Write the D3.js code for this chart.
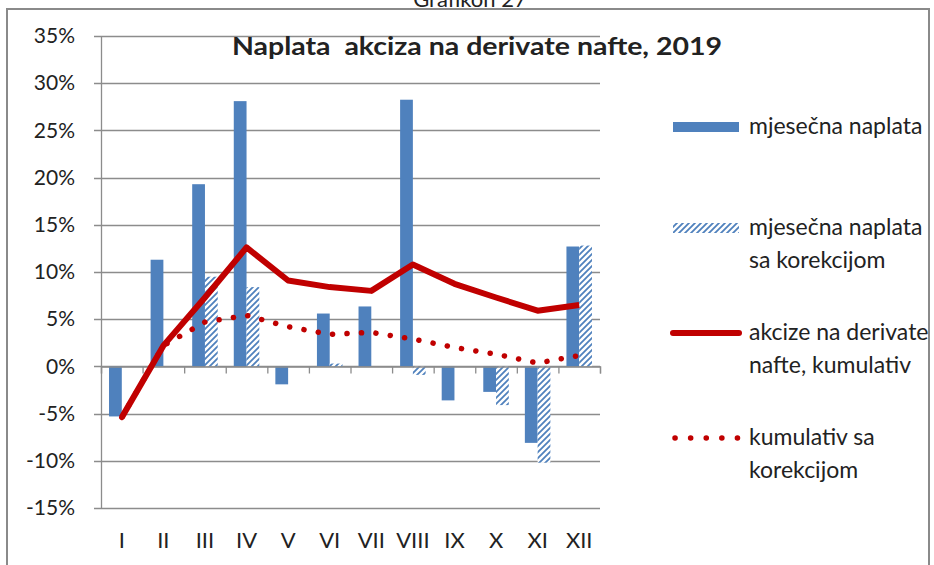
<!DOCTYPE html>
<html>
<head>
<meta charset="utf-8">
<script src="https://cdn.jsdelivr.net/npm/d3@7"></script>
<style>
  body { margin: 0; background: #fff; }
  text { font-family: Lato, "Noto Sans", sans-serif; fill: #222; }
</style>
</head>
<body>
<div id="chart"></div>
<script>
// podaci sa grafikona (u %)
var months = ["I", "II", "III", "IV", "V", "VI", "VII", "VIII", "IX", "X", "XI", "XII"];
var monthly = [-5.3, 11.3, 19.3, 28.1, -1.9, 5.6, 6.35, 28.25, -3.6, -2.7, -8.1, 12.7];
var monthlyCorr = [null, null, 9.5, 8.4, 0, 0.3, 0, -0.9, 0, -4.1, -10.2, 12.8];
var cumulative = [-5.4, 2.2, 7.3, 12.6, 9.1, 8.4, 8.0, 10.8, 8.75, 7.3, 5.9, 6.5];
var cumulativeCorr = [-5.4, 2.2, 4.7, 5.4, 4.2, 3.4, 3.6, 2.9, 2.0, 1.3, 0.35, 1.15];
var yTicks = [-15, -10, -5, 0, 5, 10, 15, 20, 25, 30, 35];
var legendItems = [
    ["mjesečna naplata"],
    ["mjesečna naplata", "sa korekcijom"],
    ["akcize na derivate", "nafte, kumulativ"],
    ["kumulativ sa", "korekcijom"]
];

const WIDTH = 934;
const HEIGHT = 565;
const PLOT_LEFT = 101;
const PLOT_RIGHT = 600;
const PLOT_TOP = 36;
const PLOT_BOTTOM = 508;

const BLUE = "#4f81bd";
const RED = "#c00000";
const GRID = "#8c8c8c";

var svg = d3.select("#chart")
    .append("svg")
    .attr("width", WIDTH)
    .attr("height", HEIGHT);

// hatch pattern za korigovane stubice
var defs = svg.append("defs");
var pat = defs.append("pattern")
    .attr("id", "hatch")
    .attr("patternUnits", "userSpaceOnUse")
    .attr("width", 6)
    .attr("height", 6);
pat.append("rect").attr("width", 6).attr("height", 6).attr("fill", "#fff");
pat.append("path")
    .attr("d", "M-1,7 L7,-1 M-4,4 L4,-4 M2,10 L10,2")
    .attr("stroke", BLUE)
    .attr("stroke-width", 1.8);

// okvir
svg.append("rect")
    .attr("x", 7).attr("y", 9)
    .attr("width", 922).attr("height", 600)
    .attr("fill", "none")
    .attr("stroke", "#8a8a8a")
    .attr("stroke-width", 2);

// naslov iznad okvira (odsječen kao na originalu)
svg.append("text")
    .attr("x", 470).attr("y", 7)
    .attr("text-anchor", "middle")
    .style("font-size", "22px")
    .text("Grafikon 27");

var x0 = d3.scaleBand().domain(months).range([PLOT_LEFT, PLOT_RIGHT])
    .paddingInner(0.386).paddingOuter(0.193);
var x1 = d3.scaleBand().domain(["a", "b"]).range([0, x0.bandwidth()]);
var xc = function (m) { return x0(m) + x0.bandwidth() / 2; };
var y = d3.scaleLinear().domain([-15, 35]).range([PLOT_BOTTOM, PLOT_TOP]);

// mreža
svg.append("g")
    .selectAll("line")
    .data(yTicks)
    .enter()
    .append("line")
    .attr("x1", PLOT_LEFT - 7)
    .attr("x2", PLOT_RIGHT)
    .attr("y1", function (d) { return Math.round(y(d)) + 0.5; })
    .attr("y2", function (d) { return Math.round(y(d)) + 0.5; })
    .attr("stroke", GRID)
    .attr("stroke-width", 1.3);

// y osa
var yAxis = svg.append("g")
    .attr("transform", "translate(" + PLOT_LEFT + ",0)")
    .call(d3.axisLeft(y).tickValues(yTicks).tickSize(0).tickPadding(26)
        .tickFormat(function (d) { return d + "%"; }));
yAxis.select(".domain").attr("stroke", GRID).attr("stroke-width", 1.3);
yAxis.selectAll("text").style("font-size", "21px").attr("fill", "#222")
    .style("font-family", "Lato, sans-serif");

// stubici
svg.append("g")
    .selectAll("rect")
    .data(months)
    .enter()
    .append("rect")
    .attr("x", function (m) { return x0(m) + x1("a"); })
    .attr("width", x1.bandwidth())
    .attr("y", function (m, i) { return y(Math.max(0, monthly[i])); })
    .attr("height", function (m, i) { return Math.abs(y(monthly[i]) - y(0)); })
    .attr("fill", BLUE);

svg.append("g")
    .selectAll("rect")
    .data(months.filter(function (m, i) { return monthlyCorr[i] !== null; }))
    .enter()
    .append("rect")
    .attr("x", function (m) { return x0(m) + x1("b"); })
    .attr("width", x1.bandwidth())
    .attr("y", function (m) { var v = monthlyCorr[months.indexOf(m)]; return y(Math.max(0, v)); })
    .attr("height", function (m) { var v = monthlyCorr[months.indexOf(m)]; return Math.abs(y(v) - y(0)); })
    .attr("fill", "url(#hatch)");

// x osa na nuli
var xAxis = svg.append("g")
    .attr("transform", "translate(0," + (Math.round(y(0)) + 0.5) + ")")
    .call(d3.axisBottom(d3.scaleLinear().domain([0, 12]).range([PLOT_LEFT, PLOT_RIGHT]))
        .ticks(12).tickSize(7).tickFormat(""));
xAxis.select(".domain").attr("stroke", GRID).attr("stroke-width", 1.3);
xAxis.selectAll(".tick line").attr("stroke", GRID).attr("stroke-width", 1.3);

// oznake mjeseci
svg.append("g")
    .selectAll("text")
    .data(months)
    .enter()
    .append("text")
    .attr("x", function (m) { return xc(m); })
    .attr("y", 548)
    .attr("text-anchor", "middle")
    .style("font-size", "22px")
    .text(function (m) { return m; });

// linije
var line = d3.line()
    .x(function (d, i) { return xc(months[i]); })
    .y(function (d) { return y(d); });

svg.append("path")
    .datum(cumulativeCorr)
    .attr("d", line)
    .attr("fill", "none")
    .attr("stroke", RED)
    .attr("stroke-width", 5.5)
    .attr("stroke-linecap", "round")
    .attr("stroke-dasharray", "0.1 14.4");

svg.append("path")
    .datum(cumulative)
    .attr("d", line)
    .attr("fill", "none")
    .attr("stroke", RED)
    .attr("stroke-width", 6)
    .attr("stroke-linejoin", "round");

// naslov
svg.append("text")
    .attr("x", 232).attr("y", 55)
    .attr("textLength", 490)
    .attr("lengthAdjust", "spacingAndGlyphs")
    .style("font-size", "24px")
    .style("font-weight", "bold")
    .attr("xml:space", "preserve")
    .text("Naplata  akciza na derivate nafte, 2019");

// legenda
var LEG_X = 673, LEG_W = 66, TEXT_X = 749;
var legY = [127, 228, 333, 438];
var leg = svg.append("g");

leg.append("rect").attr("x", LEG_X).attr("y", legY[0] - 5).attr("width", LEG_W).attr("height", 10).attr("fill", BLUE);
leg.append("rect").attr("x", LEG_X).attr("y", legY[1] - 5).attr("width", LEG_W).attr("height", 10).attr("fill", "url(#hatch)");
leg.append("line").attr("x1", LEG_X).attr("x2", LEG_X + LEG_W).attr("y1", legY[2]).attr("y2", legY[2])
    .attr("stroke", RED).attr("stroke-width", 6).attr("stroke-linecap", "round");
leg.append("line").attr("x1", LEG_X + 2).attr("x2", LEG_X + LEG_W).attr("y1", legY[3]).attr("y2", legY[3])
    .attr("stroke", RED).attr("stroke-width", 5.5).attr("stroke-linecap", "round")
    .attr("stroke-dasharray", "0.1 15.5");

legendItems.forEach(function (lines, i) {
    var t = leg.append("text")
        .attr("x", TEXT_X)
        .attr("y", legY[i] + 7)
        .style("font-size", "23px");
    lines.forEach(function (s, j) {
        t.append("tspan").attr("x", TEXT_X).attr("dy", j === 0 ? 0 : 33).text(s);
    });
});
</script>
</body>
</html>
